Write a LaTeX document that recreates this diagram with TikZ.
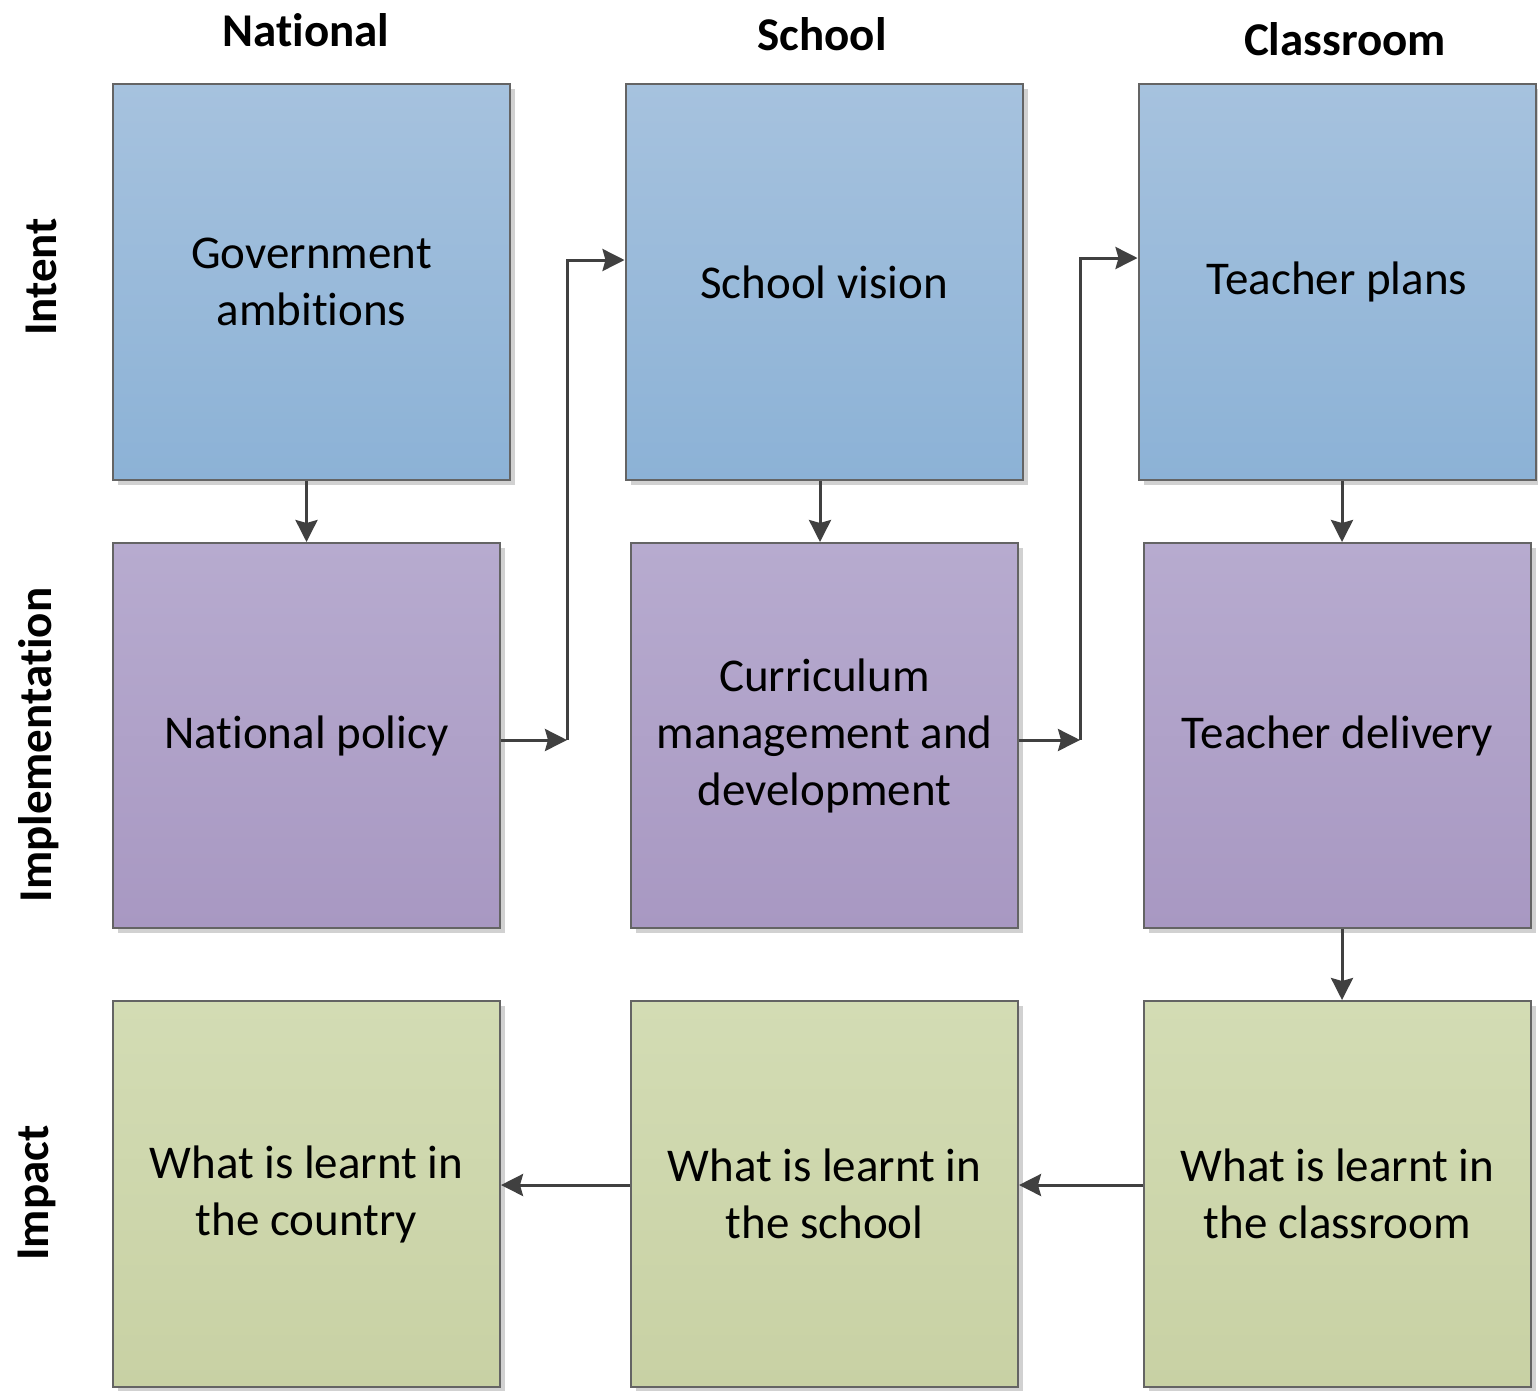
\documentclass[tikz,border=0pt]{standalone}
\usepackage{fontspec}
\setmainfont[RawFeature={-liga;-clig;-dlig;-calt;-rlig}]{Carlito}
\usetikzlibrary{arrows.meta,shadows,calc}

\definecolor{blueTop}{RGB}{166,194,222}
\definecolor{blueBot}{RGB}{140,178,214}
\definecolor{purpTop}{RGB}{183,171,207}
\definecolor{purpBot}{RGB}{168,152,194}
\definecolor{grnTop}{RGB}{211,220,180}
\definecolor{grnBot}{RGB}{200,209,164}
\definecolor{edge}{RGB}{100,100,100}
\definecolor{conn}{RGB}{64,64,64}

\tikzset{
  box/.style={draw=edge, line width=2pt, inner sep=0pt, align=center,
    font=\fontsize{47}{57}\selectfont,
    drop shadow={shadow xshift=5pt, shadow yshift=-5pt, fill=black, opacity=0.18}},
  intentbox/.style={box, minimum width=397pt, minimum height=396pt,
    top color=blueTop, bottom color=blueBot},
  implbox/.style={box, minimum width=387pt, minimum height=385pt,
    top color=purpTop, bottom color=purpBot},
  impactbox/.style={box, minimum width=387pt, minimum height=386pt,
    top color=grnTop, bottom color=grnBot},
  header/.style={font=\fontsize{47}{57}\selectfont\bfseries, anchor=base, inner sep=0pt},
  rowlabel/.style={header, rotate=90},
  arr/.style={draw=conn, line width=3pt,
    -{Stealth[length=22pt, width=22pt, inset=3pt]}}
}

\begin{document}
\begin{tikzpicture}[x=1pt, y=-1pt]
  \fill[white] (0,0) rectangle (1538,1390);
  \useasboundingbox (0,0) rectangle (1538,1390);

  % column headers
  \node[header] (hnat) at (306,46) {National};
  \node[header] (hsch) at (822,50) {School};
  \node[header] (hcls) at (1345,55) {Classroom};

  % row labels
  \node[rowlabel] (lint) at (56,277) {Intent};
  \node[rowlabel] (limp) at (51,745) {Implementation};
  \node[rowlabel] (lpac) at (48,1193) {Impact};

  % intent row
  \node[intentbox] (ga) at (311.5,282) {Government\\ambitions};
  \node[intentbox] (sv) at (824,282) {School vision};
  \node[intentbox] (tp) at (1337,282) {Teacher plans};

  % implementation row
  \node[implbox] (np) at (306.5,735.5) {National policy};
  \node[implbox] (cm) at (824.5,735.5) {Curriculum\\management and\\development};
  \node[implbox] (td) at (1337.5,735.5) {Teacher delivery};

  % impact row
  \node[impactbox] (wn) at (306.5,1194) {What is learnt in\\the country};
  \node[impactbox] (ws) at (824.5,1194) {What is learnt in\\the school};
  \node[impactbox] (wc) at (1337.5,1194) {What is learnt in\\the classroom};

  % junction points of the elbow connectors
  \coordinate (j1) at (567,740);
  \coordinate (j1t) at (567,260);
  \coordinate (j2) at (1080,740);
  \coordinate (j2t) at (1080,258);

  % vertical flow within each column
  \draw[arr] (ga.south -| np.north) -- (np.north);
  \draw[arr] ([xshift=-4pt]sv.south) -- ([xshift=-4.5pt]cm.north);
  \draw[arr] ([xshift=5pt]tp.south) -- ([xshift=4.5pt]td.north);
  \draw[arr] ([xshift=4.5pt]td.south) -- ([xshift=4.5pt]wc.north);

  % implementation feeds the next column's intent
  \draw[arr] (np.east |- j1) -- (j1);
  \draw[arr] (j1) -- (j1t) -- (j1t -| sv.west);
  \draw[arr] (cm.east |- j2) -- (j2);
  \draw[arr] (j2) -- (j2t) -- (j2t -| tp.west);

  % impact flows back toward the national level
  \draw[arr] (wc.west |- 0,1185) -- (ws.east |- 0,1185);
  \draw[arr] (ws.west |- 0,1185) -- (wn.east |- 0,1185);
\end{tikzpicture}
\end{document}
